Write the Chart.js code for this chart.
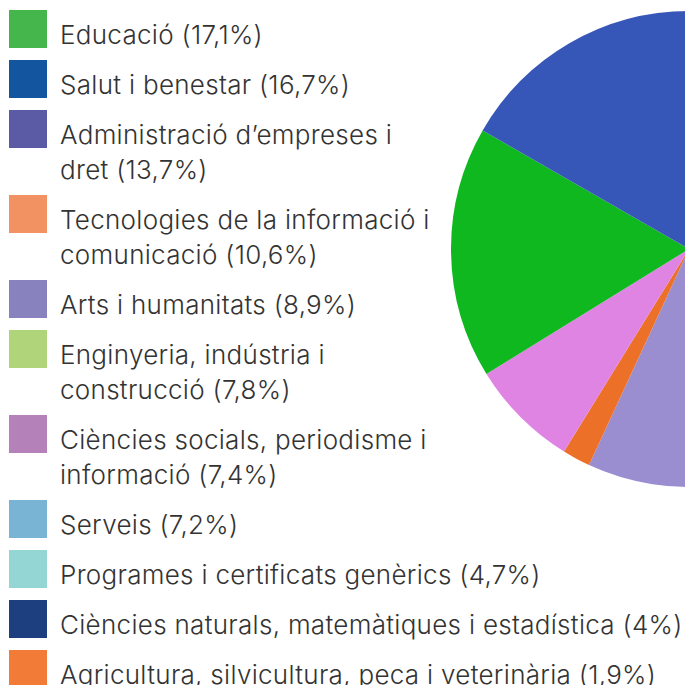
<!DOCTYPE html>
<html lang="ca">
<head>
<meta charset="utf-8">
<title>Estudiants per àmbit</title>
<script src="https://cdn.jsdelivr.net/npm/chart.js@4/dist/chart.umd.min.js"></script>
<style>
    html, body {
        margin: 0;
        padding: 0;
        width: 685px;
        height: 685px;
        overflow: hidden;
        background: #fff;
        font-family: Inter, "Noto Sans", sans-serif;
    }
    #legend {
        position: absolute;
        left: 9px;
        top: 10px;
        margin: 0;
        padding: 0;
        list-style: none;
    }
    #legend li {
        display: flex;
        align-items: flex-start;
        margin-bottom: 12px;
    }
    #legend .box {
        width: 38px;
        height: 38px;
        flex: none;
    }
    #legend .txt {
        position: relative;
        top: 4px;
        margin-left: 13px;
        margin-top: 3px;
        font-size: 26px;
        line-height: 35px;
        font-weight: 300;
        letter-spacing: 0.3px;
        color: #333;
        white-space: pre;
    }
    #pieWrap {
        position: absolute;
        left: 451px;
        top: 11px;
        width: 476px;
        height: 476px;
    }
</style>
</head>
<body>
<ul id="legend"></ul>
<div id="pieWrap"><canvas id="pie" width="476" height="476"></canvas></div>

<script>
// Categories, in legend order (line breaks as in the legend)
const categories = [
    'Educació',
    'Salut i benestar',
    'Administració d’empreses i\ndret',
    'Tecnologies de la informació i\ncomunicació',
    'Arts i humanitats',
    'Enginyeria, indústria i\nconstrucció',
    'Ciències socials, periodisme i\ninformació',
    'Serveis',
    'Programes i certificats genèrics',
    'Ciències naturals, matemàtiques i estadística',
    'Agricultura, silvicultura, peca i veterinària'
];

// Share of students (%)
const shares = [17.1, 16.7, 13.7, 10.6, 8.9, 7.8, 7.4, 7.2, 4.7, 4, 1.9];

// Legend swatch colours
const legendColors = [
    '#44b64c', '#14559f', '#5a5aa5', '#f29263', '#8882be', '#b0d47a',
    '#b482b8', '#7ab4d4', '#94d6d4', '#1d3f80', '#f37b38'
];

// Slice colours in the pie
const sliceColors = [
    '#10b820', '#3656b8', '#5252b4', '#f08c5a', '#9a8ed0', '#a6d266',
    '#e084e4', '#64aee0', '#84d8d6', '#243e94', '#ec7028'
];

// Order the slices are drawn, clockwise from the top
const pieOrder = [2, 3, 5, 7, 8, 9, 4, 10, 6, 0, 1];

function fmt(v) {
    return String(v).replace('.', ',');
}

// Build legend
const legend = document.getElementById('legend');
categories.forEach((cat, i) => {
    const li = document.createElement('li');
    li.innerHTML = `<span class="box" style="background:${legendColors[i]}"></span>` +
        `<span class="txt"></span>`;
    li.querySelector('.txt').textContent = `${cat} (${fmt(shares[i])}%)`;
    legend.appendChild(li);
});

// Pie chart
const ctx = document.getElementById('pie').getContext('2d');
new Chart(ctx, {
    type: 'pie',
    data: {
        labels: pieOrder.map(i => categories[i].replace('\n', ' ')),
        datasets: [{
            data: pieOrder.map(i => shares[i]),
            backgroundColor: pieOrder.map(i => sliceColors[i]),
            borderWidth: 0
        }]
    },
    options: {
        responsive: false,
        animation: false,
        layout: { padding: 0 },
        plugins: {
            legend: { display: false },
            tooltip: { enabled: false }
        }
    }
});
</script>
</body>
</html>
